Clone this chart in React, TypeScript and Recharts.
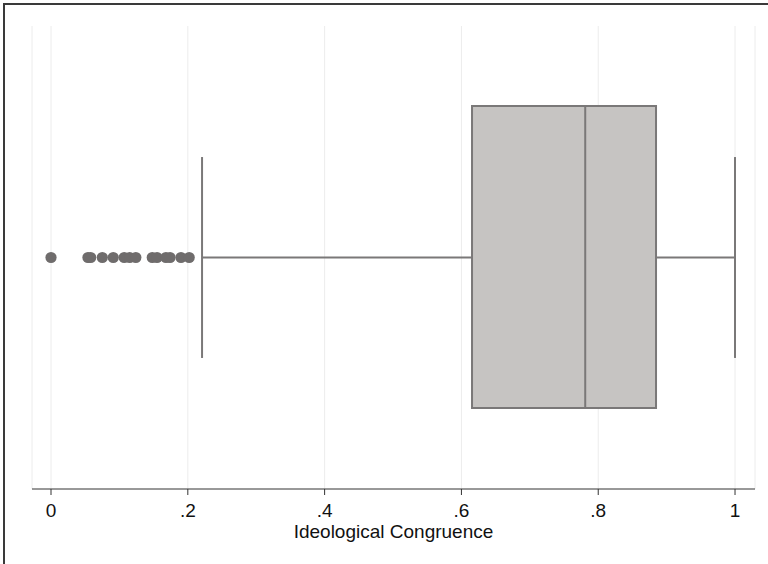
import React from "react";
import {
  ComposedChart,
  XAxis,
  YAxis,
  CartesianGrid,
  Scatter,
  ReferenceArea,
  ReferenceLine,
} from "recharts";

// Box-plot summary of ideological congruence
const boxStats = { lowerWhisker: 0.2208, q1: 0.6155, median: 0.781, q3: 0.8845, upperWhisker: 1.0 };

// Observations falling below the lower whisker
const outlierValues = [
  0, 0.054, 0.058, 0.075, 0.091, 0.107, 0.115, 0.124, 0.148, 0.155, 0.168, 0.174, 0.19, 0.202,
];

const xTicks = [0, 0.2, 0.4, 0.6, 0.8, 1];
const axisLabel = "Ideological Congruence";

const outlierData = outlierValues.map((v) => ({ x: v, y: 0.5 }));

const BOX_LOW = 0.175;
const BOX_HIGH = 0.827;
const CAP_LOW = 0.283;
const CAP_HIGH = 0.717;

const FONT = "'Liberation Sans', Arial, Helvetica, sans-serif";
const BOX_FILL = "#c6c4c2";
const LINE_GRAY = "#7a7878";
const DOT_GRAY = "#6f6c6c";

const fmtTick = (v: number) => {
  if (v === 0) return "0";
  if (v === 1) return "1";
  return String(Number(v.toFixed(1))).replace(/^0/, "");
};

const Dot = (props: any) => <circle cx={props.cx} cy={props.cy} r={5.6} fill={DOT_GRAY} />;

export default function App() {
  return (
    <div style={{ position: "absolute", left: 0, top: 0, width: 768, height: 564, overflow: "hidden", background: "#fff" }}>
      <div
        style={{
          position: "absolute",
          left: 3,
          top: 3,
          width: 900,
          height: 700,
          borderLeft: "2px solid #3a3a3a",
          borderTop: "2px solid #3a3a3a",
        }}
      />
      <div style={{ position: "absolute", left: 0, top: 0 }}>
        <ComposedChart
          width={768}
          height={564}
          margin={{ top: 26, right: 13, bottom: 25, left: 32 }}
          style={{ fontFamily: FONT }}
        >
          <CartesianGrid horizontal={false} vertical stroke="#ececec" strokeWidth={1} />
          <XAxis
            type="number"
            dataKey="x"
            domain={[-0.0278, 1.0292]}
            allowDataOverflow
            ticks={xTicks}
            tickFormatter={fmtTick}
            interval={0}
            height={50}
            tickSize={6}
            tickMargin={8.5}
            stroke="#333"
            tick={{ fill: "#111", fontSize: 19, fontFamily: FONT }}
            label={{ value: axisLabel, position: "insideBottom", offset: 1, fill: "#111", fontSize: 19, fontFamily: FONT }}
          />
          <YAxis type="number" dataKey="y" domain={[0, 1]} allowDataOverflow tick={false} tickLine={false} width={0} stroke="#333" />
          <ReferenceArea
            x1={boxStats.q1}
            x2={boxStats.q3}
            y1={BOX_LOW}
            y2={BOX_HIGH}
            fill={BOX_FILL}
            fillOpacity={1}
            stroke={LINE_GRAY}
            strokeWidth={2}
          />
          <ReferenceLine
            segment={[{ x: boxStats.median, y: BOX_LOW }, { x: boxStats.median, y: BOX_HIGH }]}
            stroke={LINE_GRAY}
            strokeWidth={2}
          />
          <ReferenceLine
            segment={[{ x: boxStats.lowerWhisker, y: 0.5 }, { x: boxStats.q1, y: 0.5 }]}
            stroke={LINE_GRAY}
            strokeWidth={2}
          />
          <ReferenceLine
            segment={[{ x: boxStats.q3, y: 0.5 }, { x: boxStats.upperWhisker, y: 0.5 }]}
            stroke={LINE_GRAY}
            strokeWidth={2}
          />
          <ReferenceLine
            segment={[{ x: boxStats.lowerWhisker, y: CAP_LOW }, { x: boxStats.lowerWhisker, y: CAP_HIGH }]}
            stroke={LINE_GRAY}
            strokeWidth={2}
          />
          <ReferenceLine
            segment={[{ x: boxStats.upperWhisker, y: CAP_LOW }, { x: boxStats.upperWhisker, y: CAP_HIGH }]}
            stroke={LINE_GRAY}
            strokeWidth={2}
          />
          <Scatter data={outlierData} dataKey="y" shape={Dot} isAnimationActive={false} />
        </ComposedChart>
      </div>
    </div>
  );
}
